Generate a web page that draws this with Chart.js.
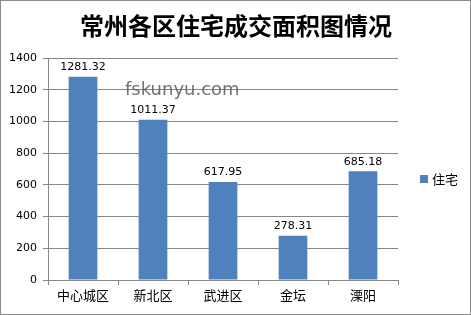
<!DOCTYPE html>
<html>
<head>
<meta charset="utf-8">
<script src="https://cdn.jsdelivr.net/npm/chart.js@4"></script>
<style>
  html, body { margin: 0; padding: 0; background: #fff; }
  #wrap { width: 471px; height: 315px; position: relative; }
</style>
</head>
<body>
<div id="wrap"><canvas id="chart"></canvas></div>
<script>
const title = "常州各区住宅成交面积图情况";
const categories = ["中心城区", "新北区", "武进区", "金坛", "溧阳"];
const seriesName = "住宅";
const values = [1281.32, 1011.37, 617.95, 278.31, 685.18];
const yTicks = [0, 200, 400, 600, 800, 1000, 1200, 1400];

const barColor = "#4f81bd";
const gridColor = "#878787";
const numFont = "DejaVu Sans";
const cjkFont = "'Noto Sans CJK SC'";

// title, border, legend, watermark and value labels
const decor = {
  id: "decor",
  afterDatasetsDraw(chart) {
    const ctx = chart.ctx;
    const meta = chart.getDatasetMeta(0);
    ctx.save();
    ctx.fillStyle = "#000";
    ctx.font = "11px " + numFont;
    ctx.textAlign = "center";
    ctx.textBaseline = "bottom";
    meta.data.forEach((bar, i) => {
      ctx.fillText(values[i].toFixed(2), bar.x, bar.y - 4);
    });
    ctx.restore();
  },
  afterDraw(chart) {
    const ctx = chart.ctx;
    ctx.save();
    // border
    ctx.strokeStyle = "#8c8c8c";
    ctx.lineWidth = 1;
    ctx.strokeRect(0.5, 0.5, 470, 314);
    // title
    ctx.fillStyle = "#000";
    ctx.font = "bold 24px " + cjkFont;
    ctx.textAlign = "center";
    ctx.textBaseline = "middle";
    ctx.fillText(title, 236, 26);
    // legend
    ctx.fillStyle = barColor;
    ctx.fillRect(420, 175, 8, 8);
    ctx.fillStyle = "#000";
    ctx.font = "13px " + cjkFont;
    ctx.textAlign = "left";
    ctx.fillText(seriesName, 432, 179);
    // watermark
    ctx.fillStyle = "rgba(90,90,90,0.85)";
    ctx.font = "18px " + numFont;
    ctx.textAlign = "left";
    ctx.textBaseline = "alphabetic";
    ctx.fillText("fskunyu.com", 125, 95);
    ctx.restore();
  }
};

new Chart(document.getElementById("chart"), {
  type: "bar",
  data: {
    labels: categories,
    datasets: [{
      label: seriesName,
      data: values,
      backgroundColor: barColor,
      categoryPercentage: 1,
      barPercentage: 0.41
    }]
  },
  options: {
    responsive: true,
    maintainAspectRatio: false,
    animation: false,
    devicePixelRatio: 1,
    layout: { padding: { top: 58, right: 73, bottom: 0, left: 0 } },
    plugins: {
      legend: { display: false },
      title: { display: false },
      tooltip: { enabled: false }
    },
    scales: {
      x: {
        grid: {
          display: true,
          drawOnChartArea: false,
          offset: true,
          color: gridColor,
          tickLength: 5
        },
        border: { color: gridColor },
        ticks: {
          color: "#000",
          font: { family: "Noto Sans CJK SC", size: 13 },
          padding: 2,
          maxRotation: 0
        },
        afterFit(scale) { scale.height = 35; }
      },
      y: {
        min: 0,
        max: 1400,
        afterBuildTicks(scale) { scale.ticks = yTicks.map(v => ({ value: v })); },
        grid: { color: gridColor, tickLength: 5 },
        border: { color: gridColor },
        ticks: {
          color: "#000",
          font: { family: numFont, size: 11 },
          padding: 6,
          callback: v => String(v)
        },
        afterFit(scale) { scale.width = 48; }
      }
    }
  },
  plugins: [decor]
});
</script>
</body>
</html>
